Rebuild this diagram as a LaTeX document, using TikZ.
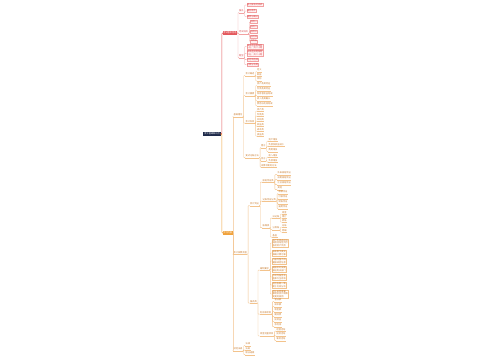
\documentclass[tikz,border=0pt]{standalone}
\usepackage{fontspec}
\newfontfamily\cjk{Noto Sans CJK SC}
\definecolor{navy}{HTML}{1E2A4A}
\definecolor{redmain}{HTML}{E4585C}
\definecolor{redline}{HTML}{F2A1A1}
\definecolor{redtext}{HTML}{D9484C}
\definecolor{redbg}{HTML}{FFF3F3}
\definecolor{orgmain}{HTML}{F0A23B}
\definecolor{orgline}{HTML}{F3C38C}
\definecolor{orgtext}{HTML}{C87A2C}
\tikzset{
  base/.style={inner xsep=0.4pt, inner ysep=0.35pt, anchor=west,
    font=\cjk\fontsize{2.2}{2.6}\selectfont},
  sl/.style={text height=1.7pt, text depth=0.45pt},
  rootbox/.style={base, sl, fill=navy, text=white, inner xsep=1.2pt, inner ysep=0.8pt},
  redbox/.style={base, sl, fill=redmain, text=white, inner xsep=0.6pt, inner ysep=0.7pt},
  orgbox/.style={base, sl, fill=orgmain, text=white, inner xsep=0.6pt, inner ysep=0.7pt},
  rl/.style={base, sl, text=redtext,
    append after command={(\tikzlastnode.south west) edge[draw=redline, line width=0.25pt] (\tikzlastnode.south east)}},
  rleaf/.style={base, sl, draw=redline, fill=redbg, text=redtext, line width=0.25pt},
  rleaf2/.style={base, draw=redline, fill=redbg, text=redtext, line width=0.25pt, align=left},
  ol/.style={base, sl, text=orgtext,
    append after command={(\tikzlastnode.south west) edge[draw=orgline, line width=0.25pt] (\tikzlastnode.south east)}},
  obox/.style={base, draw=orgline, text=orgtext, line width=0.25pt, align=left},
  elbow/.style={to path={(\tikztostart) -- ++(#1,0) |- (\tikztotarget)}},
  elbow/.default=0.7,
  mainc/.style={line width=0.6pt, rounded corners=0.8pt, elbow=0.7},
  rc/.style={draw=redline, line width=0.35pt, rounded corners=0.6pt, elbow},
  oc/.style={draw=orgline, line width=0.35pt, rounded corners=0.6pt, elbow},
}
\begin{document}
\begin{tikzpicture}[x=1pt,y=-1pt]
\fill[white] (0,0) rectangle (500,360);
\useasboundingbox (0,0) rectangle (500,360);

% root and main branches
\node[rootbox] (root) at (203,134) {会计基础知识点};
\node[redbox] (R) at (222.5,33) {考试基本信息};
\node[orgbox] (O) at (222.5,233) {学习内容};
\draw[mainc, draw=redmain] (root.east) to (R.west);
\draw[mainc, draw=orgmain] (root.east) to (O.west);

% ---------- red branch ----------
\node[rl] (R1) at (238.5,11) {报名};
\node[rl] (R2) at (238.5,32) {考试科目};
\node[rl] (R3) at (238.5,56) {题型};
\foreach \c in {R1,R2,R3} \draw[rc] (R.east) to (\c.south west);

\node[rleaf] (r11) at (246.5,5) {网上报名时间表};
\node[rleaf] (r12) at (246.5,11) {报名条件};
\node[rleaf] (r13) at (246.5,16.5) {缴费与确认};
\foreach \c in {r11,r12,r13} \draw[rc] (R1.south east) to (\c.west);

\node[rleaf] (r21) at (250,22) {科目一};
\node[rleaf] (r22) at (250,26.8) {科目二};
\node[rleaf] (r23) at (250,31.6) {科目三};
\node[rleaf] (r24) at (250,36.4) {科目四};
\node[rleaf] (r25) at (250,41.2) {科目五};
\foreach \c in {r21,r22,r23,r24,r25} \draw[rc] (R2.south east) to (\c.west);

\node[rleaf2] (r31) at (246.5,46.5) {单项选择题每题\\一分，共二十题};
\node[rleaf2] (r32) at (246.5,53.2) {多项选择题每题\\二分，共二十题};
\node[rleaf] (r33) at (246.5,59.6) {不定项选择};
\node[rleaf] (r34) at (246.5,64.8) {计算分析题};
\foreach \c in {r31,r32,r33,r34} \draw[rc] (R3.south east) to (\c.west);

% ---------- orange branch ----------
\node[ol] (O1) at (233,115) {基础理论};
\node[ol] (O2) at (233,252.5) {会计核算流程};
\node[ol] (O3) at (233,349) {财经法规};
\foreach \c in {O1,O2,O3} \draw[oc] (O.east) to (\c.south west);

% O1
\node[ol] (O1a) at (245,74) {会计概述};
\node[ol] (O1b) at (245,94) {会计要素};
\node[ol] (O1c) at (245,121.5) {会计科目};
\node[ol] (O1d) at (245,156) {复式记账方法};
\foreach \c in {O1a,O1b,O1c,O1d} \draw[oc] (O1.south east) to (\c.south west);

\node[ol] (a1) at (256.5,70) {定义};
\node[ol] (a2) at (256.5,74.6) {职能};
\node[ol] (a3) at (256.5,79.2) {目标};
\foreach \c in {a1,a2,a3} \draw[oc] (O1a.south east) to (\c.south west);

\node[ol] (b1) at (256.5,84) {资产及其特征};
\node[ol] (b2) at (256.5,89) {负债及其特征};
\node[ol] (b3) at (256.5,94) {所有者权益构成};
\node[ol] (b4) at (256.5,99) {收入及其确认};
\node[ol] (b5) at (256.5,104) {费用与利润构成};
\foreach \c in {b1,b2,b3,b4,b5} \draw[oc] (O1b.south east) to (\c.south west);

\node[ol] (k1) at (256.5,109.5) {资产类};
\node[ol] (k2) at (256.5,114.5) {负债类};
\node[ol] (k3) at (256.5,119.5) {共同类};
\node[ol] (k4) at (256.5,124.5) {权益类};
\node[ol] (k5) at (256.5,129.5) {成本类};
\node[ol] (k6) at (256.5,134.5) {损益类};
\foreach \c in {k1,k2,k3,k4,k5,k6} \draw[oc] (O1c.south east) to (\c.south west);

\node[ol] (d1) at (260.5,146) {借方};
\node[ol] (d2) at (260.5,159) {贷方};
\node[ol] (d3) at (260.5,165.5) {试算平衡的方法};
\foreach \c in {d1,d2,d3} \draw[oc] (O1d.south east) to (\c.south west);

\node[ol] (d11) at (268,139.5) {资产增加};
\node[ol] (d12) at (268,144.5) {负债及权益减少};
\node[ol] (d13) at (268,150) {费用增加};
\foreach \c in {d11,d12,d13} \draw[oc] (d1.south east) to (\c.south west);
\node[ol] (d21) at (268,155.5) {收入增加};
\node[ol] (d22) at (268,160.5) {负债增加};
\foreach \c in {d21,d22} \draw[oc] (d2.south east) to (\c.south west);

% O2
\node[ol] (O2a) at (249.5,204) {会计凭证};
\node[ol] (O2x) at (249.5,301.5) {报表类};
\foreach \c in {O2a,O2x} \draw[oc] (O2.south east) to (\c.south west);

\node[ol] (p1) at (262,180.5) {原始凭证类};
\node[ol] (p2) at (262,199.5) {记账凭证分类};
\node[ol] (p3) at (262,226) {账簿类};
\foreach \c in {p1,p2,p3} \draw[oc] (O2a.south east) to (\c.south west);

\node[ol] (p11) at (277,173) {外来原始凭证};
\node[ol] (p12) at (277,178) {自制原始凭证};
\node[ol] (p13) at (277,183) {汇总原始凭证};
\node[ol] (p14) at (277,188) {其他};
\foreach \c in {p11,p12,p13,p14} \draw[oc] (p1.south east) to (\c.south west);

\node[ol] (p21) at (278,192) {收款凭证};
\node[ol] (p22) at (278,197) {付款凭证};
\node[ol] (p23) at (278,202) {转账凭证};
\node[ol] (p24) at (278,207) {通用凭证};
\foreach \c in {p21,p22,p23,p24} \draw[oc] (p2.south east) to (\c.south west);

\node[ol] (c1) at (272,216.5) {日记账};
\node[ol] (c2) at (272,228) {分类账};
\node[ol] (c3) at (272,235.5) {备查};
\foreach \c in {c1,c2,c3} \draw[oc] (p3.south east) to (\c.south west);
\node[ol] (c11) at (281.5,212.5) {现金};
\node[ol] (c12) at (281.5,216.5) {银行};
\node[ol] (c13) at (281.5,220.5) {转账};
\foreach \c in {c11,c12,c13} \draw[oc] (c1.south east) to (\c.south west);
\node[ol] (c21) at (281.5,225.5) {总账};
\node[ol] (c22) at (281.5,230.5) {明细};
\foreach \c in {c21,c22} \draw[oc] (c2.south east) to (\c.south west);

\node[ol] (q1) at (259.5,268.5) {编制要求};
\node[ol] (q2) at (259.5,312.5) {利润表项目};
\node[ol] (q3) at (259.5,334.3) {现金流量项目};
\foreach \c in {q1,q2,q3} \draw[oc] (O2x.south east) to (\c.south west);

\node[obox] (e1) at (272,243) {资产负债表应当\\按照流动性列示\\各项资产负债};
\node[obox] (e2) at (272,253) {报表数字真实\\准确计算可靠};
\node[obox] (e3) at (272,261) {内容完整不得\\漏报或者任意};
\node[obox] (e4) at (272,269) {编报及时按期\\报送有关部门};
\node[obox] (e5) at (272,277) {手续完备签名\\盖章齐全有效};
\node[obox] (e6) at (272,285) {前后各期一致\\便于比较分析};
\node[obox] (e7) at (272,294) {附注说明重要\\事项及会计政策\\变更的原因};
\foreach \c in {e1,e2,e3,e4,e5,e6,e7} \draw[oc] (q1.south east) to (\c.west);

\node[ol] (f1) at (274,300) {营业额};
\node[ol] (f2) at (274,305) {成本额};
\node[ol] (f3) at (274,310) {税金额};
\node[ol] (f4) at (274,315) {期间费};
\node[ol] (f5) at (274,320) {投资益};
\node[ol] (f6) at (274,325) {净利润};
\foreach \c in {f1,f2,f3,f4,f5,f6} \draw[oc] (q2.south east) to (\c.south west);

\node[ol] (g1) at (276,329.5) {经营活动};
\node[ol] (g2) at (276,334.3) {投资活动};
\node[ol] (g3) at (276,339) {筹资活动};
\foreach \c in {g1,g2,g3} \draw[oc] (q3.south east) to (\c.south west);

% O3
\node[ol] (h1) at (245,344) {法律};
\node[ol] (h2) at (245,348.5) {法规};
\node[ol] (h3) at (245,353) {职业道德};
\foreach \c in {h1,h2,h3} \draw[oc] (O3.south east) to (\c.south west);
\end{tikzpicture}
\end{document}
